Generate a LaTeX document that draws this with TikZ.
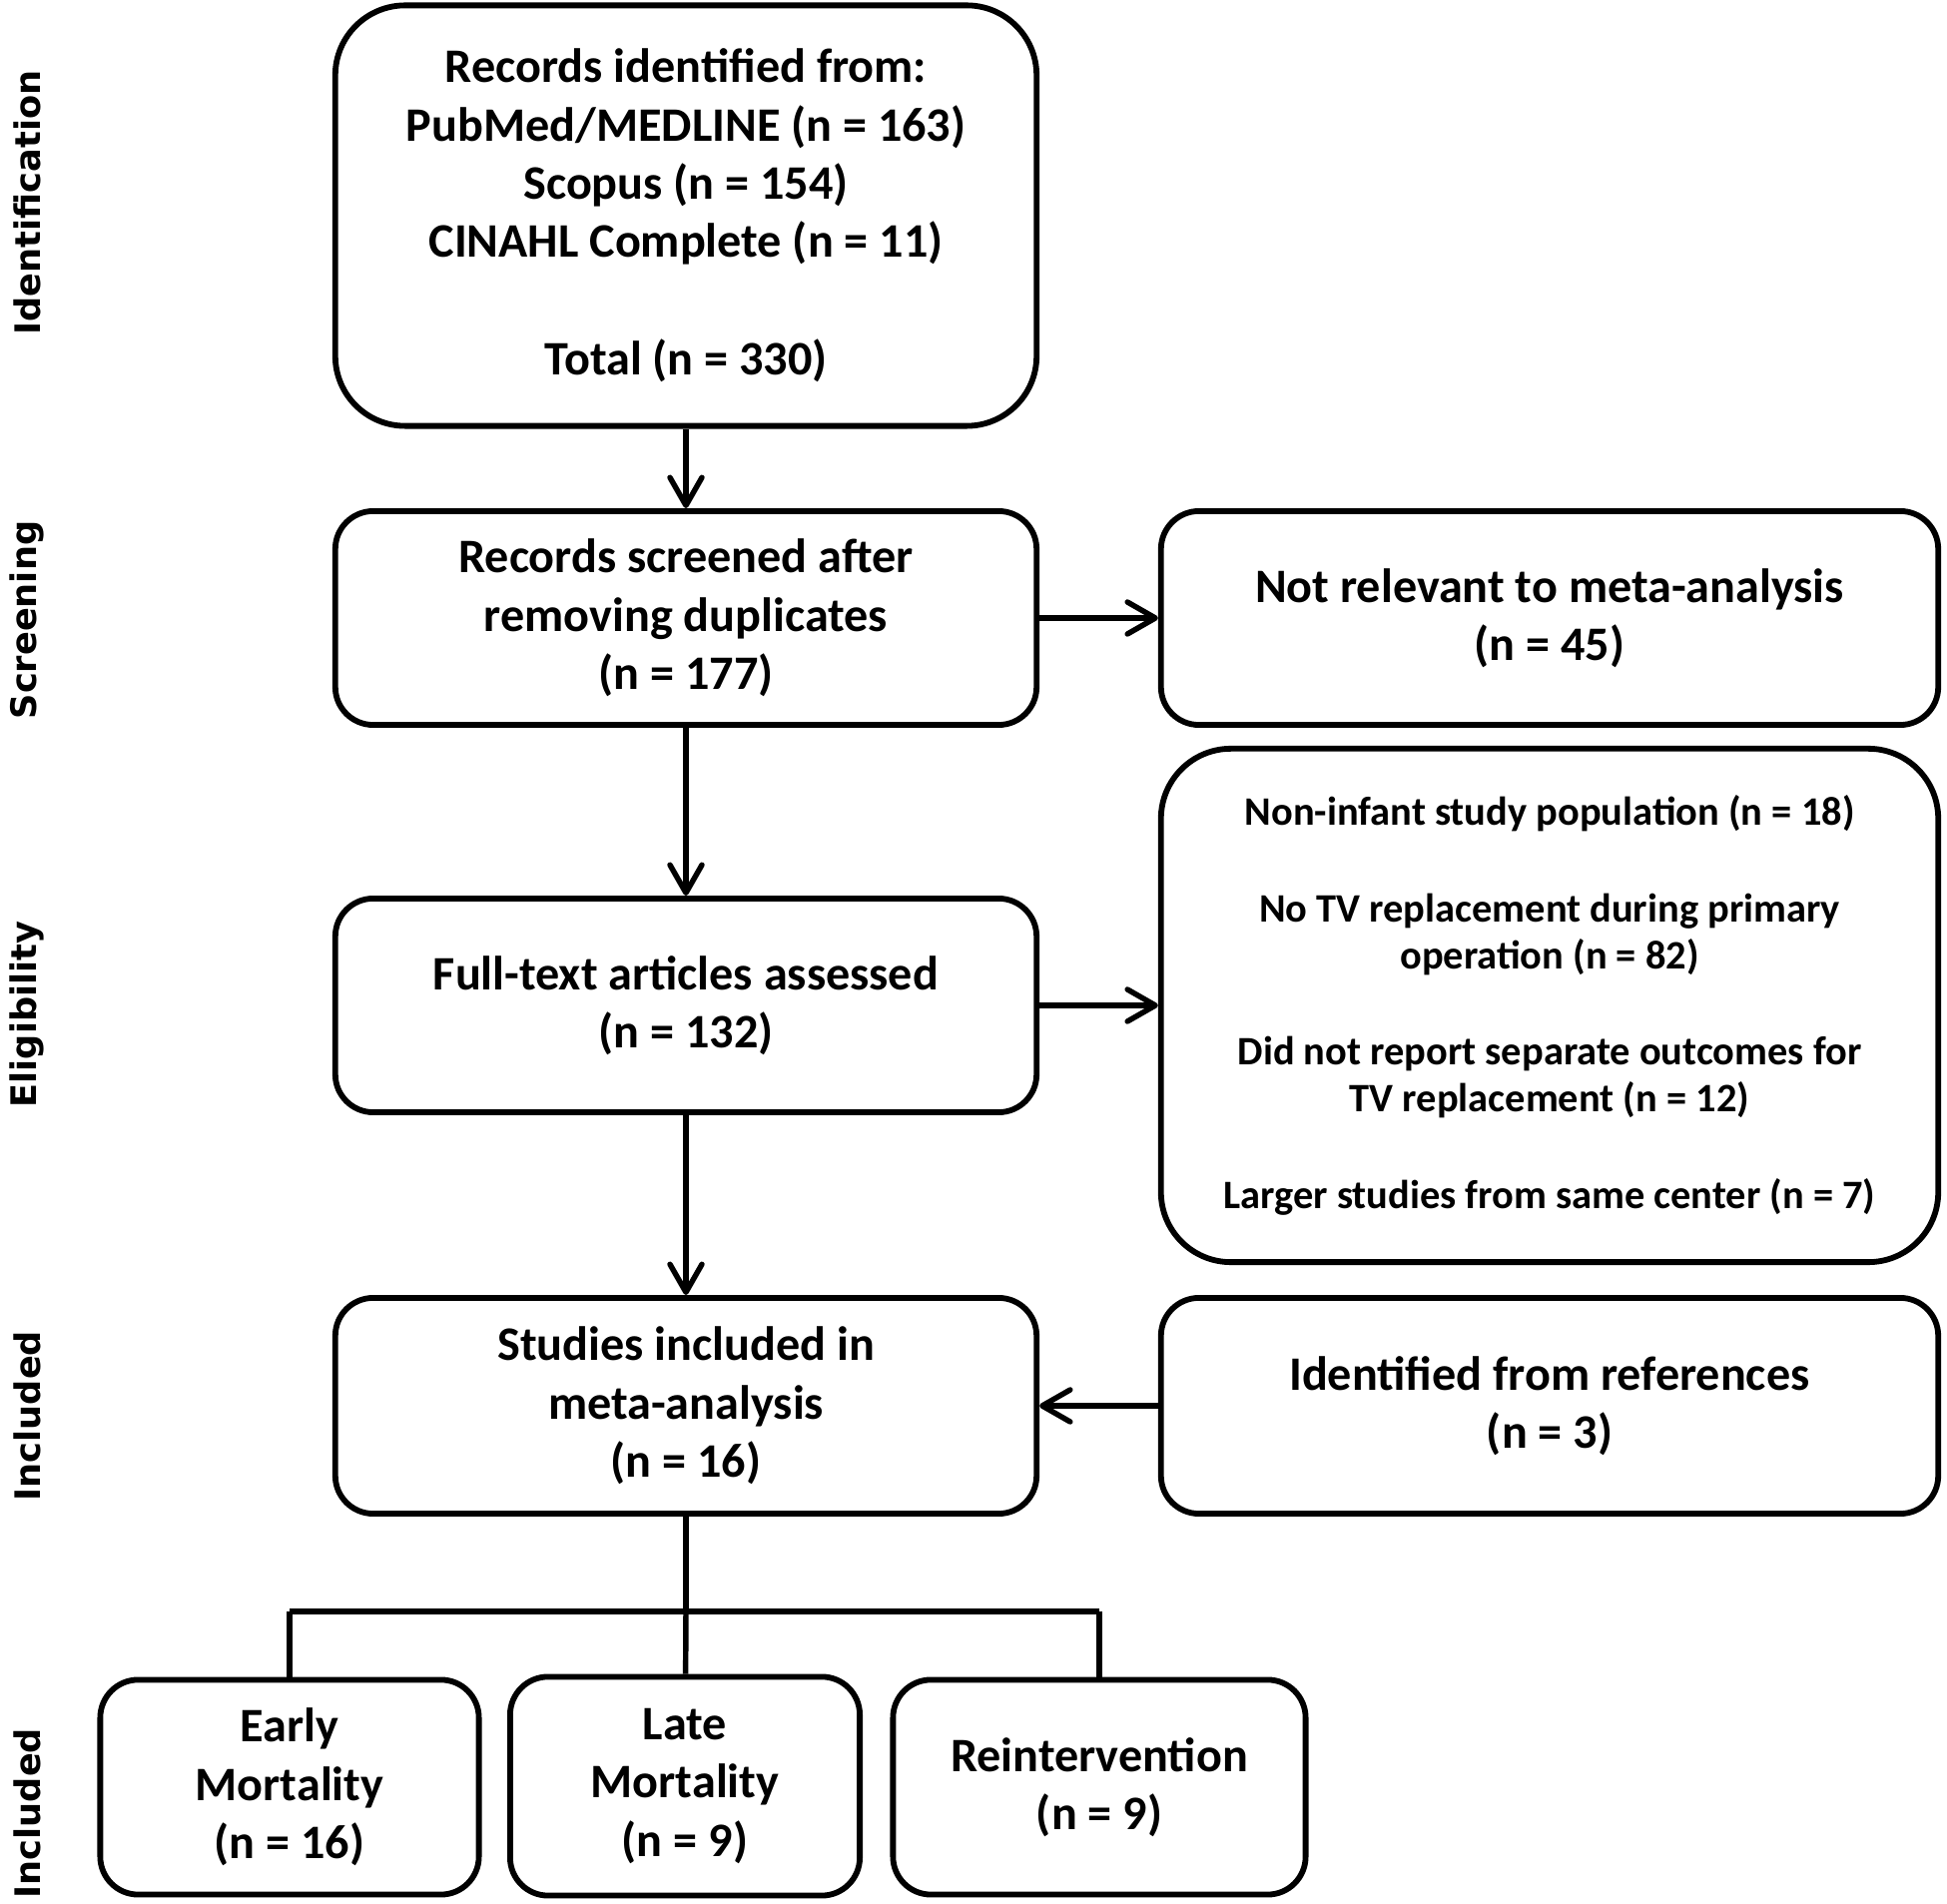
\documentclass[tikz,border=0pt]{standalone}
\usepackage{fontspec}
\setmainfont{Carlito}
\newfontfamily\sidefont{DejaVu Sans}
\usepackage{tikz}
\usetikzlibrary{arrows.meta,positioning}
\newcommand{\boxfont}{\bfseries\fontsize{13.7}{16.6}\selectfont}
\newcommand{\exclfont}{\bfseries\fontsize{11.5}{13.4}\selectfont}
\tikzset{>={Straight Barb[length=2.8mm,width=3.2mm,round]}}
\tikzset{
  box/.style={draw,line width=1.65pt,rounded corners=0.38cm,align=center,inner sep=0pt,font=\boxfont},
  bigbox/.style={box,rounded corners=0.7cm},
  side/.style={rotate=90,font=\sidefont\bfseries\fontsize{10}{12}\selectfont},
  flow/.style={line width=1.55pt},
}

\begin{document}
\begin{tikzpicture}[x=0.01cm,y=-0.01cm]
    \fill[white] (0,0) rectangle (1950,1907);
    \useasboundingbox (0,0) rectangle (1950,1907);

    % phase labels
    \node[side] (lident) at (27,203) {Identification};
    \node[side] (lscreen) at (27,621) {Screening};
    \node[side] (lelig) at (27,1016) {Eligibility};
    \node[side] (lincl) at (27,1418) {Included};
    \node[side] (lout) at (27,1816) {Included};

    % main column
    \node[bigbox,minimum width=7.02cm,minimum height=4.21cm] (ident) at (687,216) {Records identified from:\\PubMed/MEDLINE (n = 163)\\Scopus (n = 154)\\CINAHL Complete (n = 11)\\[17pt]Total (n = 330)};
    \node[box,minimum width=7.02cm,minimum height=2.14cm] (screen) at (687,619) {Records screened after\\removing duplicates\\(n = 177)};
    \node[box,minimum width=7.02cm,minimum height=2.14cm] (full) at (687,1007) {Full-text articles assessed\\(n = 132)};
    \node[box,minimum width=7.02cm,minimum height=2.16cm] (incl) at (687,1408) {Studies included in\\meta-analysis\\(n = 16)};

    % right column
    \node[box,minimum width=7.78cm,minimum height=2.14cm] (notrel) at (1552,619) {Not relevant to meta-analysis\\(n = 45)};
    \node[bigbox,minimum width=7.78cm,minimum height=5.14cm,font=\exclfont] (excl) at (1552,1007) {Non-infant study population (n = 18)\\[14pt]No TV replacement during primary\\operation (n = 82)\\[14pt]Did not report separate outcomes for\\TV replacement (n = 12)\\[14pt]Larger studies from same center (n = 7)};
    \node[box,minimum width=7.78cm,minimum height=2.16cm] (refs) at (1552,1408) {Identified from references\\(n = 3)};

    % outcomes
    \node[box,minimum width=3.79cm,minimum height=2.15cm] (early) at (290,1790) {Early\\Mortality\\(n = 16)};
    \node[box,minimum width=3.50cm,minimum height=2.19cm] (late) at (686,1789) {Late\\Mortality\\(n = 9)};
    \node[box,minimum width=4.13cm,minimum height=2.15cm] (reint) at (1101,1790) {Reintervention\\(n = 9)};
    \coordinate (split) at (687,1614);

    \draw[flow,->] (ident) -- (screen);
    \draw[flow,->] (screen) -- (notrel);
    \draw[flow,->] (screen) -- (full);
    \draw[flow,->] (full) -- (excl);
    \draw[flow,->] (full) -- (incl);
    \draw[flow,->] (refs) -- (incl);

    \draw[flow] (incl) -- (split);
    \draw[flow] (early.north |- split) -- (reint.north |- split);
    \draw[flow] (split) -- (late);
    \draw[flow] (early.north |- split) -- (early);
    \draw[flow] (reint.north |- split) -- (reint);
\end{tikzpicture}
\end{document}
